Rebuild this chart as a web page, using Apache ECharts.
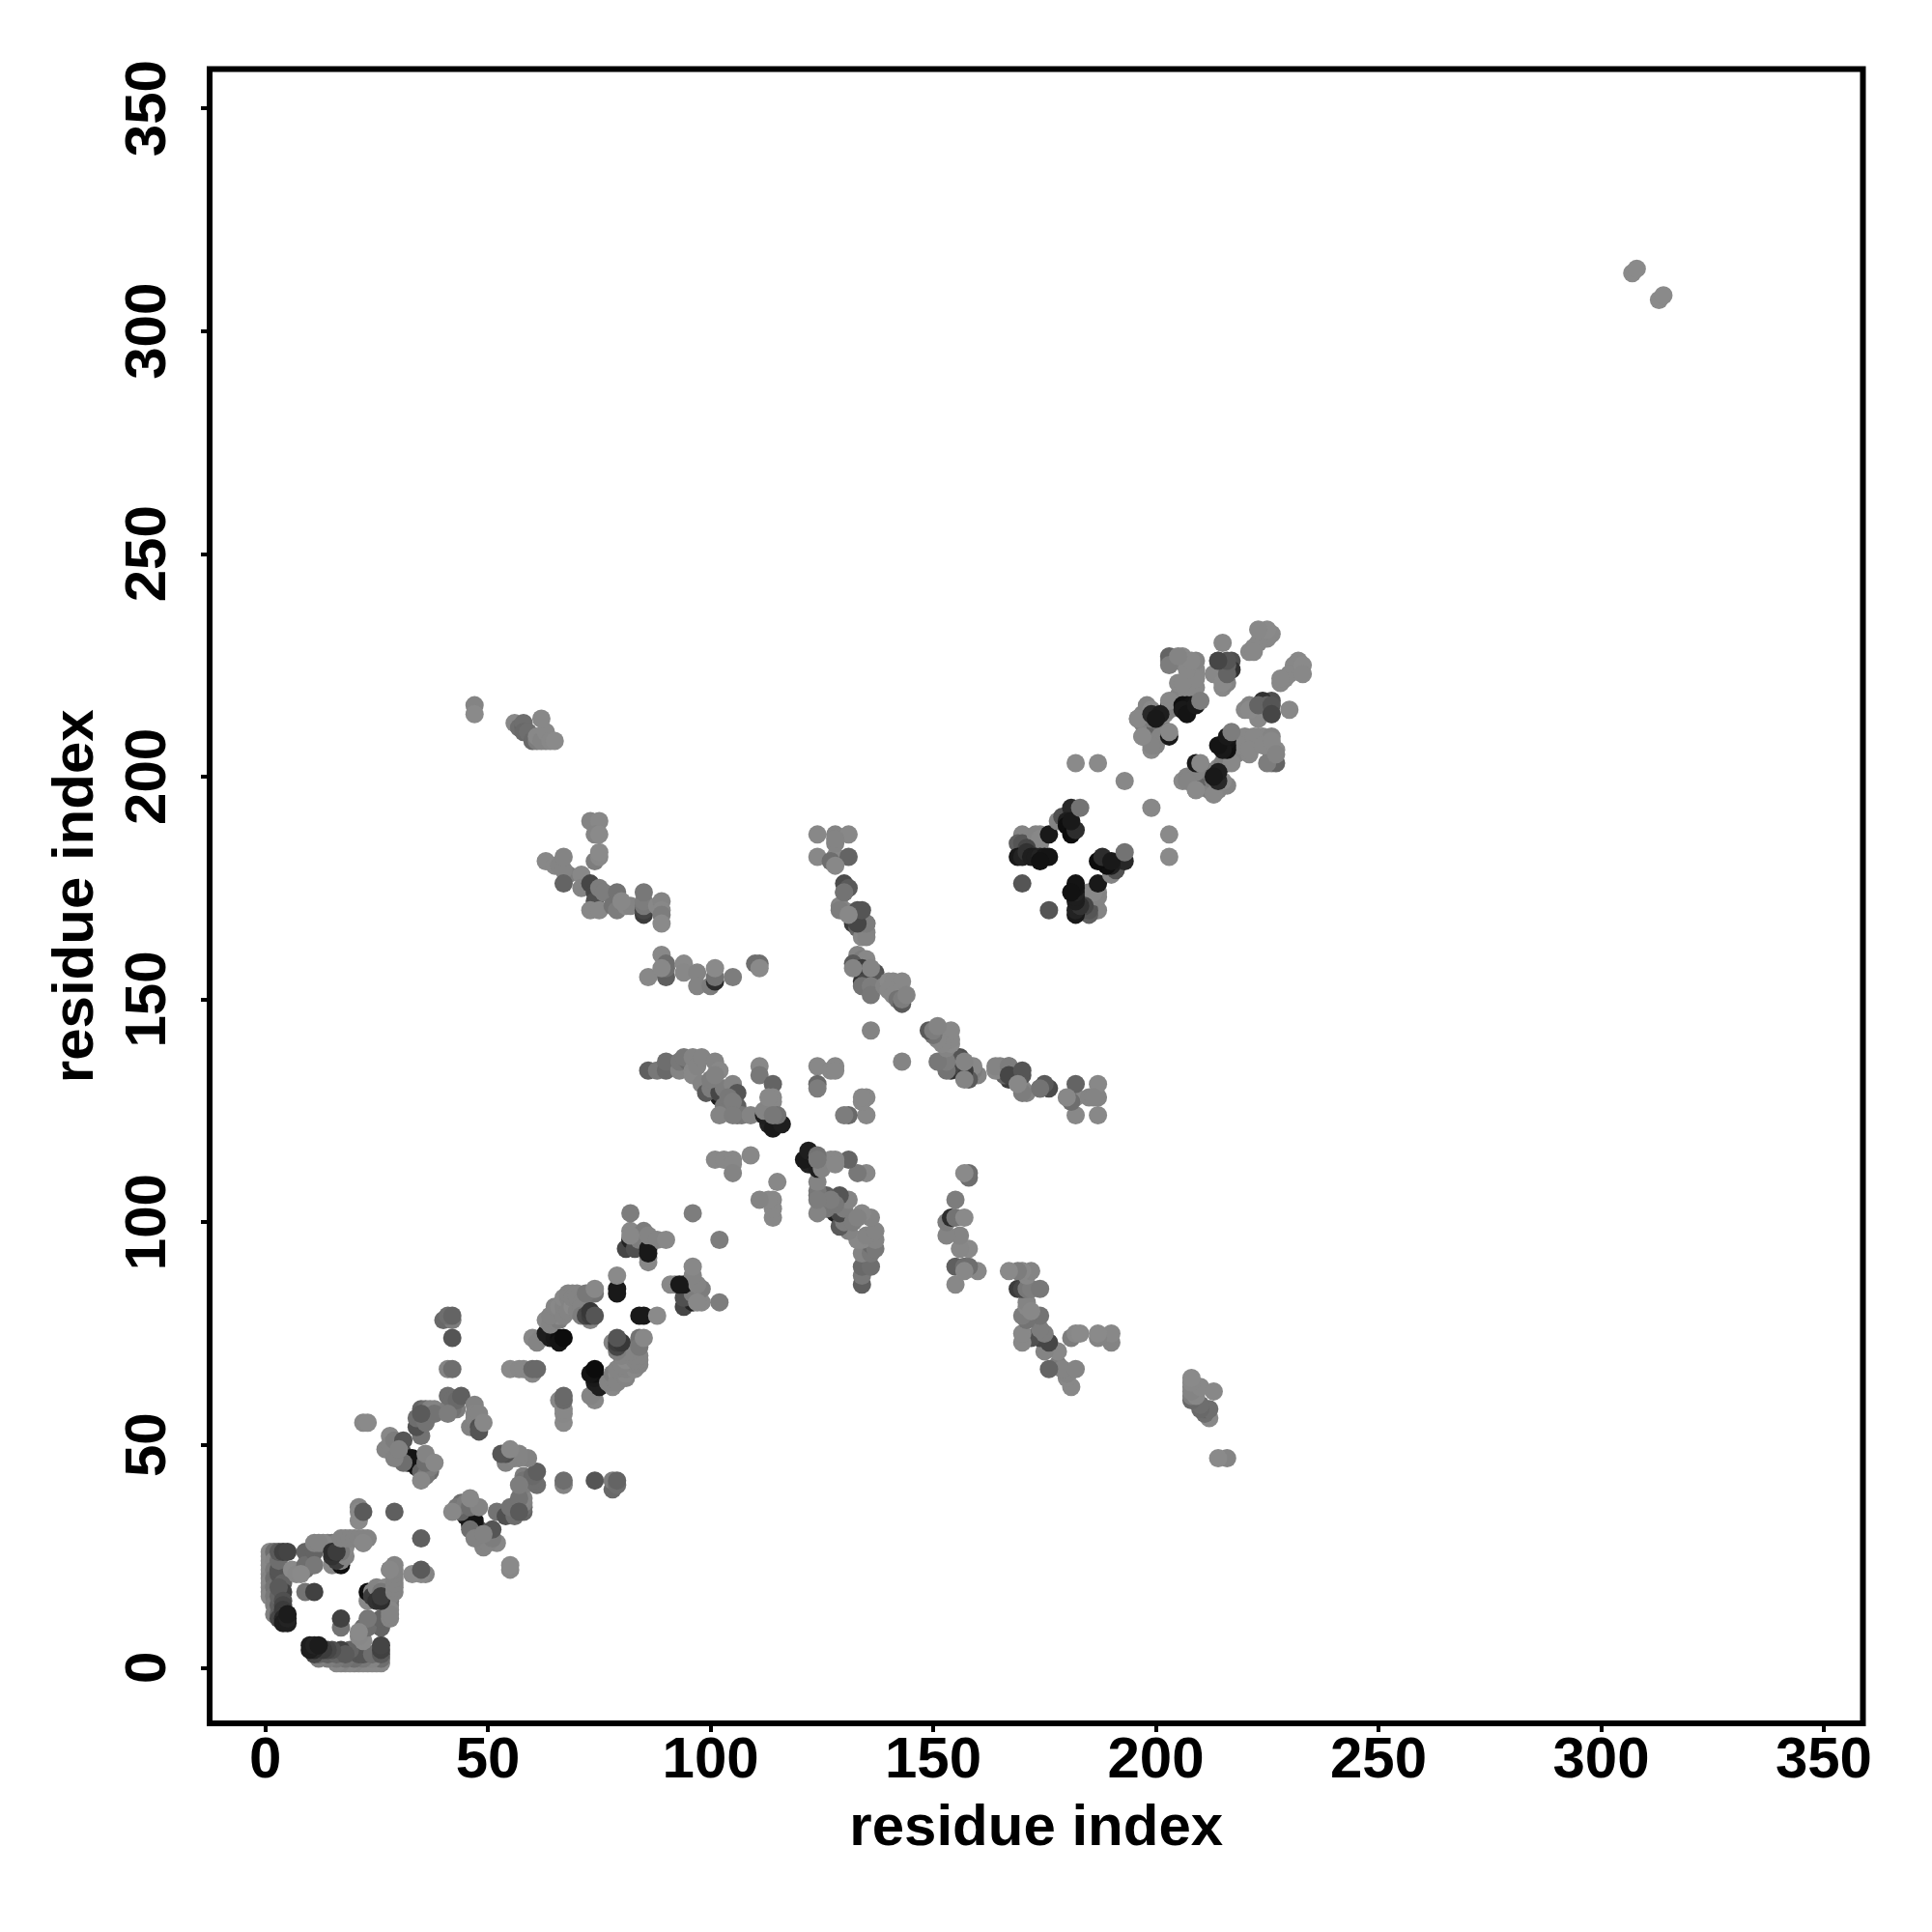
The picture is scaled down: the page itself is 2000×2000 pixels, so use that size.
<!DOCTYPE html>
<html><head><meta charset="utf-8">
<style>html,body{margin:0;padding:0;background:#fff}#c{width:2000px;height:2000px}</style>
<script src="https://cdn.jsdelivr.net/npm/echarts@6/dist/echarts.min.js"></script>
</head><body><div id="c"></div>
<script>
// contact triples: [residue i, residue j, grey level]; each contact appears at (i,j) and (j,i)
const tickValues=[0,50,100,150,200,250,300,350];
const axisName='residue index';
const clusterA=[
[1,26,136],[1,25,136],[1,24,136],[1,23,136],[1,22,136],[1,21,136],[1,20,132],[1,19,136],[1,18,136],[1,17,132],[1,16,136],[2,26,110],[2,24,132],[2,22,120],[2,20,110],[2,18,115],[2,16,120],[2,14,125],[2,12,128],[3,12,100],[3,14,95],[3,16,100],[3,19,115],[3,21,85],[3,22,85],[3,24,110],[3,26,90],[4,26,65],[5,26,68],[4,19,100],[4,17,65],[3,18,90],[4,15,80],[4,14,70],[3,11,70],[4,13,60],[4,11,40],[4,10,30],[5,10,30],[5,11,35],[5,12,28],[6,22,138],[7,21,136],
[9,26,100],[9,22,110],[9,23,110],[11,26,100],[11,23,120],[11,28,132],[9,17,115],[11,17,65],
[15,23,136],[17,23,15],[17,24,132],[16,24,60],[14,28,132],[15,28,120],[16,28,132],[13,28,136],[12,28,132],[17,27,132],[18,25,132],[18,27,136],[17,26,120],[15,25,50],[15,26,45],[16,26,60],[17,29,132],[18,29,132],[19,29,132],[20,29,132],[21,29,132],[22,28,138],[22,29,132],[23,29,132],[22,28,136],
[8,21,138],[21,36,132],[21,35,136],[21,33,138],[22,35,90],[29,35,95]
];
const clusterB=[
[28,52,136],[27,49,132],[28,50,132],[29,51,125],[30,48,90],[31,51,85],[31,48,85],[32,47,30],[34,45,30],[33,46,15],[32,46,20],[33,47,20],[31,46,110],[29,47,130],[30,49,130],[35,44,100],[37,44,110],[36,43,120],[37,45,125],[36,46,110],[35,42,136],[36,48,132],[38,46,136],
[35,52,115],[34,54,80],[34,56,110],[35,58,100],[36,58,110],[37,58,130],[38,58,132],[41,58,125],[43,58,125],[42,58,115],[41,61,110],[42,60,110],[43,60,105],[44,61,95],[46,54,130],[47,59,130],[47,57,132],[47,56,132],[48,57,132],[48,54,80],[48,53,85],[49,55,136],
[36,55,115],[38,57,115],[35,57,90],[41,57,125],
[22,55,136],[23,55,138],
[41,67,132],[42,67,110],[42,74,85],[40,78,105],[42,78,125],[41,79,110],[42,79,100]
];
const clusterC=[
[55,67,138],[57,67,136],[58,67,136],[60,66,136],[60,67,105],[61,67,105],
[60,74,136],[62,74,132],[61,73,132],[64,74,30],[63,75,30],[65,74,25],[66,74,15],[66,73,20],[67,74,12],[63,78,136],[64,77,132],[65,78,132],[66,78,125],[65,80,136],[66,79,136],[64,79,132],[65,81,132],[66,81,136],[67,79,132],[67,81,132],[67,83,136],[68,83,132],[68,84,132],[69,84,132],[68,80,132],[69,81,138],[69,83,132],[70,84,132],[72,83,132],[70,80,132],[70,83,132],[71,82,132],[71,81,132],[71,79,125],[73,78,132],[72,79,70],[73,79,60],[73,80,55],[74,79,85],[74,84,115],[72,84,120],[74,85,136],[79,85,25],[79,84,25],[79,88,138],
[81,94,70],[82,96,35],[83,94,80],[82,98,136],[82,102,125],[84,96,125],[85,98,125],[86,94,25],[86,97,132],[86,92,138],[88,96,132],[90,96,136],[96,102,125],[86,91,136],[82,97,136],[86,93,25]
];
const clusterD=[
[86,134,95],[88,134,120],[90,134,105],[90,136,110],[93,134,132],[93,136,120],[95,136,105],[94,137,120],[96,134,136],[96,133,136],[96,137,132],[97,135,132],[98,137,132],[101,136,132],[102,134,136],[98,131,132],[102,128,30],[99,129,90],[100,130,125],[102,129,70],[103,126,120],[103,130,125],[105,131,132],[106,129,85],[106,126,95],[102,124,132],[106,124,115],[107,124,120],[109,124,132],[111,135,136],[111,133,120],[114,131,100],[114,128,136],[114,127,136],
[113,124,40],[113,122,35],[112,124,30],[114,121,25],[115,123,25],[116,122,30],[112,125,132],[115,124,115],[114,124,120],
[124,135,136],[124,131,105],[124,130,125],[127,134,136],[128,135,136],[128,134,136],[113,128,136],[101,114,136],[103,114,136],[105,114,136],[105,113,136],[105,111,132],[109,115,136],[136,143,132],[100,132,125],[101,133,130],[104,128,120],[105,127,125],[105,124,125]
];
const clusterE=[
[124,187,136],[128,187,132],[131,187,136],[124,182,136],[128,182,136],[131,182,100],[127,181,110],[128,180,136],[128,185,132],[128,186,132],[130,176,75],[130,174,95],[131,175,90],[130,170,136],[129,171,132],[133,170,85],[132,169,90],[133,168,95],[132,167,60],[133,166,100],[135,167,115],[135,165,132],[134,164,136],[133,160,132],[134,159,125],[135,159,136],[133,157,75],[132,158,90],[134,157,60],[134,154,50],[135,155,60],[137,156,80],[137,155,85],[135,154,70],[134,153,115],[136,153,125],[136,151,120],[132,157,132],[136,157,132],[139,153,132],[140,154,138],[141,154,136],[143,154,136],[140,152,136],[141,151,136],[142,150,115],[143,149,90],[143,150,125],[144,151,132],
[135,164,132],[135,167,125],[133,167,70],[134,170,85],[129,170,125],[131,169,136],[130,174,115]
];
const clusterF=[
[47,216,132],[47,214,138],[56,212,136],[57,211,110],[58,211,100],[58,212,110],[58,210,105],[59,210,110],[60,208,105],[61,208,125],[61,209,136],[63,208,130],[62,208,132],[63,210,136],[62,213,136],[64,208,136],[65,208,138],
[63,181,136],[65,180,136],[66,180,132],[68,178,125],[67,179,132],[67,182,132],[67,176,100],[73,190,132],[75,190,136],[74,187,132],[75,187,138],[74,181,125],[75,182,136],[75,183,138],[71,178,136],[71,175,132],[73,176,70],[74,174,70],[74,172,80],[75,175,125],[76,174,125],[73,170,136],[75,170,136],[79,174,115],[78,171,115],[79,170,125],[81,171,136],[82,171,132],[80,172,136],[85,169,60],[85,170,70],[85,171,120],[85,172,125],[85,174,120],[88,171,136],[89,172,132],[89,170,136],[89,169,125],[89,167,138],
[89,160,136],[90,155,95],[90,157,110],[90,158,110],[86,155,136],[89,157,136],[94,158,138],[94,156,136],[97,156,132],[97,153,132],[100,153,125],[101,154,45],[101,155,115],[101,157,138],[105,155,125],[110,158,110],[111,158,110],[111,157,138]
];
const clusterI=[
[182,203,138],[187,203,138],[193,199,136],
[170,187,132],[169,185,95],[170,185,85],[174,187,136],[174,185,132],[173,187,132],[174,186,136],[171,184,70],[169,182,25],[170,182,35],[171,183,50],[176,187,25],[172,182,30],[173,182,30],[174,182,35],[175,182,22],[176,182,20],[174,181,18],[170,176,85],
[178,190,132],[179,191,80],[181,193,40],[180,190,30],[180,189,14],[181,188,15],[181,187,12],[182,188,45],[181,190,25],[183,193,115]
];
const clusterJ=[
[196,213,132],[197,214,132],[197,212,125],[198,216,132],[197,209,125],[199,206,138],[198,210,132],[199,208,136],[200,211,100],[201,212,115],[200,207,132],[201,209,132],[203,209,25],[203,210,136],[202,214,136],[203,216,45],[204,216,136],[205,218,132],[206,219,132],[205,221,136],[207,222,136],[209,220,136],[209,223,138],[209,224,136],[203,226,132],[204,226,136],[205,226,125],[206,226,132],[207,225,136],[209,226,132],
[214,226,132],[217,226,80],[217,224,50],[216,225,100],[215,224,125],[215,222,136],[215,220,136],[216,221,132],
[224,232,138],[226,232,136],[225,231,136],[223,230,136],[222,229,136],[221,228,136],[222,228,136],[225,233,138],[223,233,136],
[213,223,136],[215,221,138],[216,223,100],[216,226,85],[214,226,70],[215,230,136],
[207,219,136],[209,222,136],[206,227,138],[203,227,100],[203,225,125],[206,221,136],[207,224,136],[208,226,136],[205,227,132],
[199,207,132],[197,209,138],[199,215,138],[203,215,125],[203,217,136],[199,213,125],[196,213,136],
[199,214,40],[201,214,30],[200,213,25],[206,216,15],[207,216,15],[208,216,20],[206,215,25],[207,214,20],[209,216,25],[210,217,125]
];
const clusterFar=[[307,313,138],[308,314,138]];

const contacts=[...clusterA,...clusterB,...clusterC,...clusterD,...clusterE,...clusterF,...clusterI,...clusterJ,...clusterFar];
const points=[];
for(const [i,j,g] of contacts){
  const c={color:`rgb(${g},${g},${g})`};
  points.push({value:[i,j],itemStyle:c});
  points.push({value:[j,i],itemStyle:c});
}
const font={fontFamily:'Liberation Sans',fontWeight:'bold',fontSize:60,color:'#000'};
const mkAxis=(extra)=>Object.assign({
  type:'value',min:-12.5,max:358.8,
  name:axisName,nameLocation:'middle',
  nameTextStyle:{fontFamily:'Liberation Sans',fontWeight:'bold',fontSize:60,color:'#000'},
  splitLine:{show:false},axisLine:{show:false,onZero:false},
  axisTick:{show:true,length:9,inside:false,customValues:tickValues,lineStyle:{color:'#000',width:4}},
},extra);
const chart=echarts.init(document.getElementById('c'),null,{renderer:'canvas'});
chart.setOption({
  animation:false,backgroundColor:'#fff',
  grid:{left:217,right:71.5,top:71.5,bottom:216,show:true,borderColor:'#000',borderWidth:6,backgroundColor:'transparent'},
  xAxis:mkAxis({nameGap:79,axisLabel:Object.assign({show:true,margin:9,customValues:tickValues},font)}),
  yAxis:mkAxis({nameGap:108,axisLabel:Object.assign({show:true,rotate:90,margin:33,customValues:tickValues},font)}),
  series:[{type:'scatter',symbol:'circle',symbolSize:19,data:points,clip:false,itemStyle:{opacity:1},z:5}]
});
</script></body></html>
